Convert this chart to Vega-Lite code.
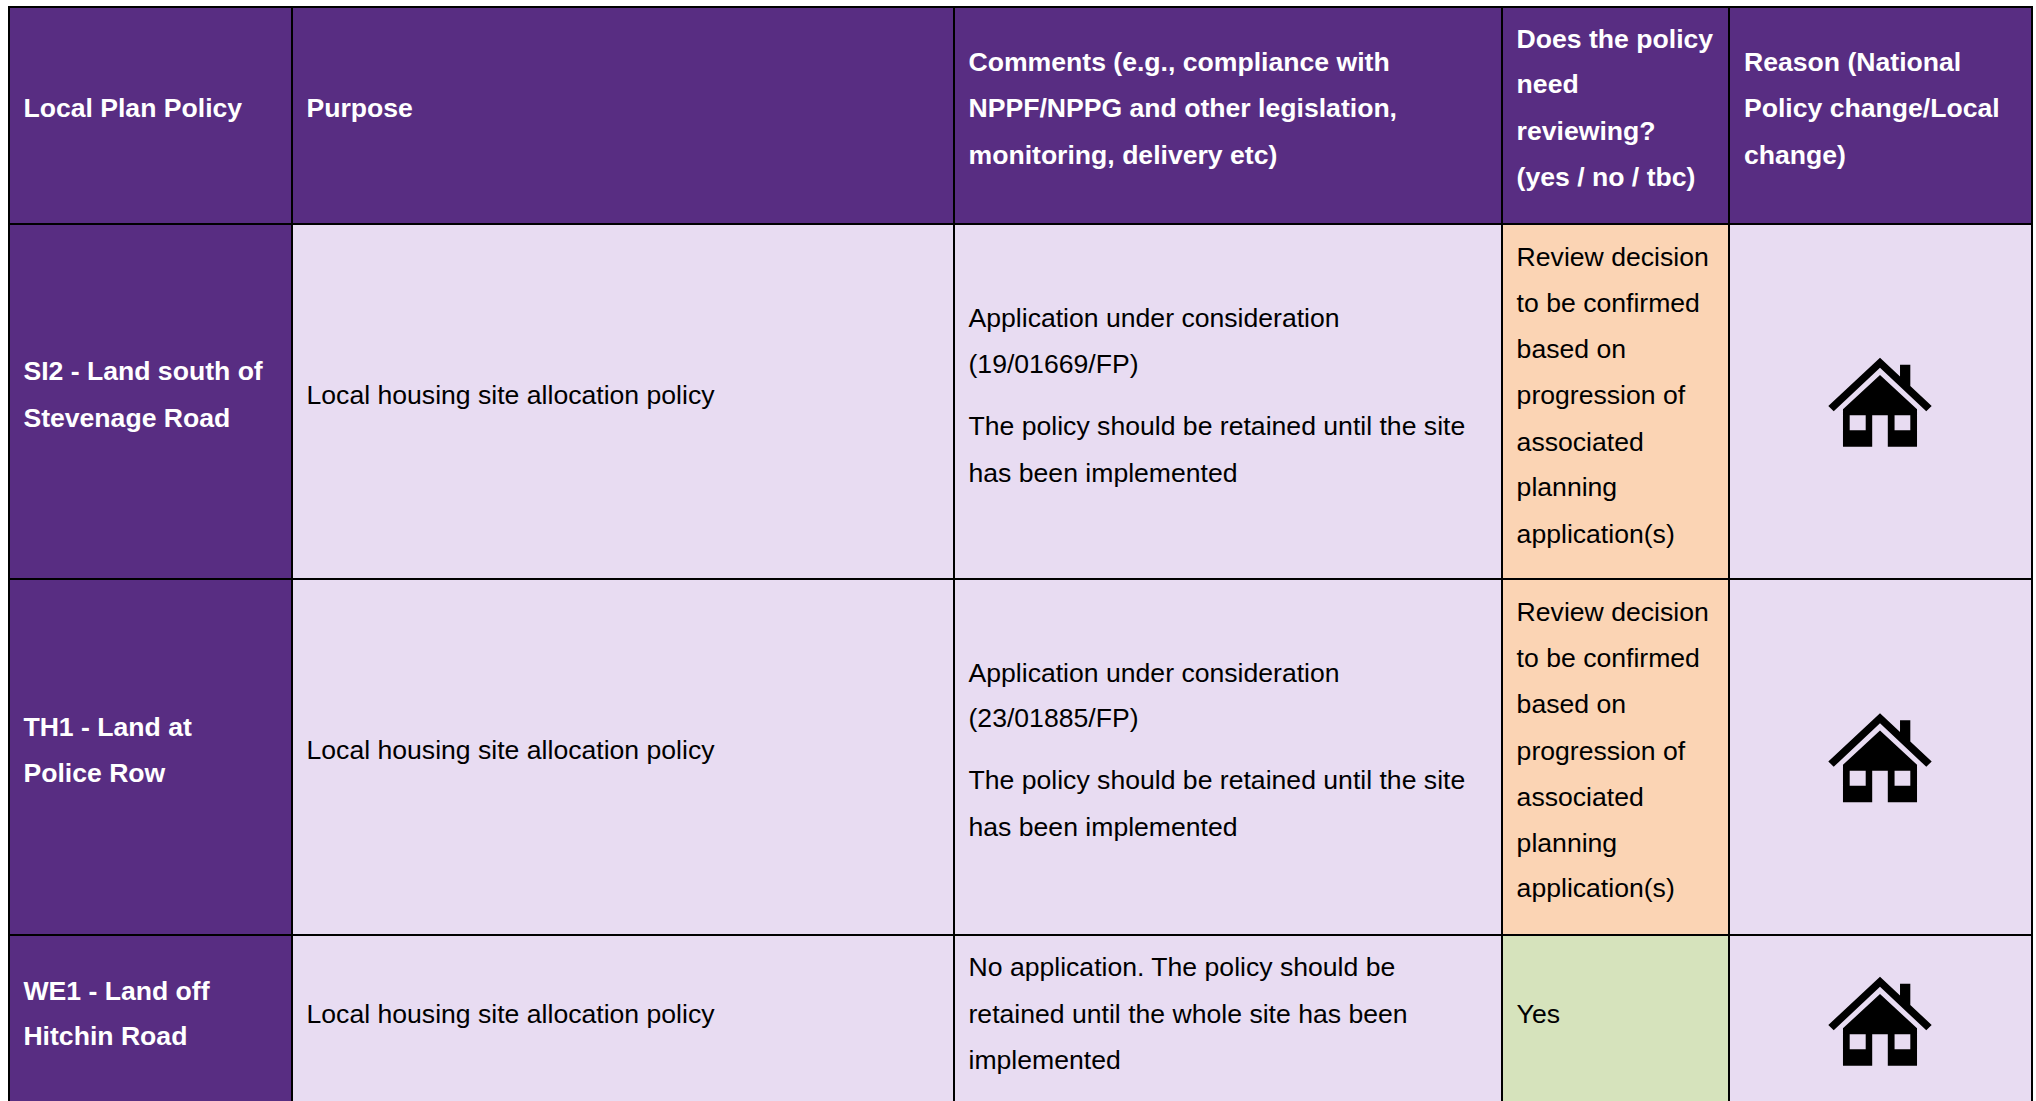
{"$schema":"https://vega.github.io/schema/vega-lite/v6.json","width":2036,"height":1101,"autosize":{"type":"fit","contains":"padding"},"padding":0,"background":"white","config":{"view":{"stroke":null}},
"datasets":{"cells":[
{"x0":9,"x1":292,"y0":7,"y1":224,"kind":"header"},{"x0":292,"x1":954,"y0":7,"y1":224,"kind":"header"},{"x0":954,"x1":1502,"y0":7,"y1":224,"kind":"header"},{"x0":1502,"x1":1729,"y0":7,"y1":224,"kind":"header"},{"x0":1729,"x1":2032,"y0":7,"y1":224,"kind":"header"},
{"x0":9,"x1":292,"y0":224,"y1":579,"kind":"header"},{"x0":292,"x1":954,"y0":224,"y1":579,"kind":"body"},{"x0":954,"x1":1502,"y0":224,"y1":579,"kind":"body"},{"x0":1502,"x1":1729,"y0":224,"y1":579,"kind":"amber"},{"x0":1729,"x1":2032,"y0":224,"y1":579,"kind":"body"},
{"x0":9,"x1":292,"y0":579,"y1":935,"kind":"header"},{"x0":292,"x1":954,"y0":579,"y1":935,"kind":"body"},{"x0":954,"x1":1502,"y0":579,"y1":935,"kind":"body"},{"x0":1502,"x1":1729,"y0":579,"y1":935,"kind":"amber"},{"x0":1729,"x1":2032,"y0":579,"y1":935,"kind":"body"},
{"x0":9,"x1":292,"y0":935,"y1":1120,"kind":"header"},{"x0":292,"x1":954,"y0":935,"y1":1120,"kind":"body"},{"x0":954,"x1":1502,"y0":935,"y1":1120,"kind":"body"},{"x0":1502,"x1":1729,"y0":935,"y1":1120,"kind":"green"},{"x0":1729,"x1":2032,"y0":935,"y1":1120,"kind":"body"}],
"boldLines":[
{"x":23.4,"y":107.8,"t":"Local Plan Policy"},{"x":306.5,"y":107.8,"t":"Purpose"},
{"x":968.5,"y":62.3,"t":"Comments (e.g., compliance with"},{"x":968.5,"y":107.8,"t":"NPPF/NPPG and other legislation,"},{"x":968.5,"y":154.5,"t":"monitoring, delivery etc)"},
{"x":1516.6,"y":39,"t":"Does the policy"},{"x":1516.6,"y":84.4,"t":"need"},{"x":1516.6,"y":131.1,"t":"reviewing?"},{"x":1516.6,"y":176.6,"t":"(yes / no / tbc)"},
{"x":1744,"y":62.3,"t":"Reason (National"},{"x":1744,"y":107.8,"t":"Policy change/Local"},{"x":1744,"y":154.5,"t":"change)"},
{"x":23.4,"y":371.4,"t":"SI2 - Land south of"},{"x":23.4,"y":418.1,"t":"Stevenage Road"},
{"x":23.4,"y":727,"t":"TH1 - Land at"},{"x":23.4,"y":772.6,"t":"Police Row"},
{"x":23.4,"y":990.7,"t":"WE1 - Land off"},{"x":23.4,"y":1036.2,"t":"Hitchin Road"}],
"plainLines":[
{"x":306.5,"y":394.7,"t":"Local housing site allocation policy"},
{"x":968.5,"y":318.1,"t":"Application under consideration"},{"x":968.5,"y":363.6,"t":"(19/01669/FP)"},{"x":968.5,"y":425.9,"t":"The policy should be retained until the site"},{"x":968.5,"y":472.7,"t":"has been implemented"},
{"x":1516.6,"y":257.1,"t":"Review decision"},{"x":1516.6,"y":302.6,"t":"to be confirmed"},{"x":1516.6,"y":349.3,"t":"based on"},{"x":1516.6,"y":394.7,"t":"progression of"},{"x":1516.6,"y":441.5,"t":"associated"},{"x":1516.6,"y":486.9,"t":"planning"},{"x":1516.6,"y":533.7,"t":"application(s)"},
{"x":306.5,"y":749.6,"t":"Local housing site allocation policy"},
{"x":968.5,"y":672.6,"t":"Application under consideration"},{"x":968.5,"y":718,"t":"(23/01885/FP)"},{"x":968.5,"y":780.4,"t":"The policy should be retained until the site"},{"x":968.5,"y":827.1,"t":"has been implemented"},
{"x":1516.6,"y":611.6,"t":"Review decision"},{"x":1516.6,"y":658.3,"t":"to be confirmed"},{"x":1516.6,"y":703.8,"t":"based on"},{"x":1516.6,"y":750.5,"t":"progression of"},{"x":1516.6,"y":797.3,"t":"associated"},{"x":1516.6,"y":842.7,"t":"planning"},{"x":1516.6,"y":888.2,"t":"application(s)"},
{"x":306.5,"y":1014.1,"t":"Local housing site allocation policy"},
{"x":968.5,"y":967.4,"t":"No application. The policy should be"},{"x":968.5,"y":1014.1,"t":"retained until the whole site has been"},{"x":968.5,"y":1059.6,"t":"implemented"},
{"x":1516.6,"y":1014.1,"t":"Yes"}],
"icons":[{"x":1880,"y":402},{"x":1880,"y":757.5},{"x":1880,"y":1021}]},
"layer":[
{"data":{"name":"cells"},"mark":{"type":"rect","stroke":"#000000","strokeWidth":2,"clip":true},"encoding":{"x":{"field":"x0","type":"quantitative","scale":{"domain":[0,2036],"nice":false,"zero":false},"axis":null},"x2":{"field":"x1"},"y":{"field":"y0","type":"quantitative","scale":{"domain":[1101,0],"nice":false,"zero":false},"axis":null},"y2":{"field":"y1"},"color":{"field":"kind","type":"nominal","legend":null,"scale":{"domain":["header","body","amber","green"],"range":["#582d82","#e8dcf2","#fbd4b4","#d6e3bc"]}}}},
{"data":{"name":"boldLines"},"mark":{"type":"text","align":"left","baseline":"middle","dy":1,"font":"Liberation Sans","fontSize":26.6,"fontWeight":"bold","fill":"#ffffff"},"encoding":{"x":{"field":"x","type":"quantitative","scale":{"domain":[0,2036],"nice":false,"zero":false},"axis":null},"y":{"field":"y","type":"quantitative","scale":{"domain":[1101,0],"nice":false,"zero":false},"axis":null},"text":{"field":"t"}}},
{"data":{"name":"plainLines"},"mark":{"type":"text","align":"left","baseline":"middle","dy":1,"font":"Liberation Sans","fontSize":26.6,"fill":"#000000"},"encoding":{"x":{"field":"x","type":"quantitative","scale":{"domain":[0,2036],"nice":false,"zero":false},"axis":null},"y":{"field":"y","type":"quantitative","scale":{"domain":[1101,0],"nice":false,"zero":false},"axis":null},"text":{"field":"t"}}},
{"data":{"name":"icons"},"mark":{"type":"point","filled":true,"fill":"#000000","opacity":1,"strokeWidth":0,"size":10816,"shape":"M0,-.852L.385,-.492L.385,-.717L.583,-.717L.583,-.308L.994,.077L.89,.179L0,-.66L-.89,.179L-.994,.077ZM0,-.519L.712,.14L.712,.86L.15,.86L.15,.256L-.15,.256L-.15,.86L-.712,.86L-.712,.14ZM-.583,.256L-.583,.544L-.275,.544L-.275,.256ZM.28,.256L.28,.544L.583,.544L.583,.256Z"},"encoding":{"x":{"field":"x","type":"quantitative","scale":{"domain":[0,2036],"nice":false,"zero":false},"axis":null},"y":{"field":"y","type":"quantitative","scale":{"domain":[1101,0],"nice":false,"zero":false},"axis":null}}}
]}
